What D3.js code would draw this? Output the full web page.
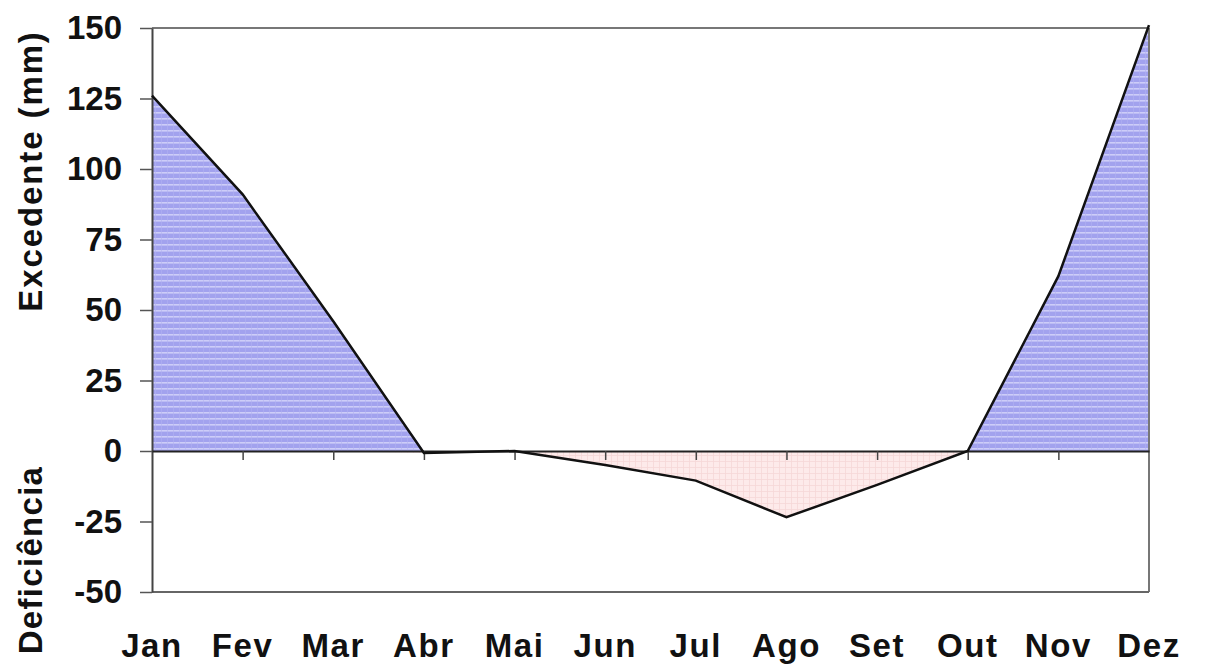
<!DOCTYPE html>
<html><head><meta charset="utf-8">
<script src="https://cdn.jsdelivr.net/npm/d3@7"></script>
<style>
html,body{margin:0;padding:0;background:#fff;}
svg{display:block;font-family:"Liberation Sans",Arial,sans-serif;}
</style></head>
<body>
<svg id="chart" width="1205" height="665"></svg>
<script>
const months = ["Jan","Fev","Mar","Abr","Mai","Jun","Jul","Ago","Set","Out","Nov","Dez"];
const balance = [126, 91, 46, -0.7, 0, -5, -10.5, -23.5, -12, 0, 62, 151];
const yTicks = [-50,-25,0,25,50,75,100,125,150];
const yTitleTop = "Excedente (mm)";
const yTitleBottom = "Deficiência";

const svg = d3.select("#chart");
const pLeft = 152, pRight = 1149, pTop = 28, pBottom = 592;
const x = d3.scalePoint().domain(months).range([pLeft, pRight]);
const y = d3.scaleLinear().domain([-50, 150]).range([pBottom, pTop]);

const defs = svg.append("defs");
const pb = defs.append("pattern").attr("id","blueStripe").attr("patternUnits","userSpaceOnUse")
  .attr("width",6).attr("height",6);
pb.append("rect").attr("width",6).attr("height",6).attr("fill","#a2a2ee");
pb.append("rect").attr("y",4).attr("width",6).attr("height",1.6).attr("fill","#cdcdf8");
pb.append("rect").attr("x",5).attr("width",0.6).attr("height",6).attr("fill","#b2b2f2");
const pp = defs.append("pattern").attr("id","pinkGrid").attr("patternUnits","userSpaceOnUse")
  .attr("width",6).attr("height",6);
pp.append("rect").attr("width",6).attr("height",6).attr("fill","#fdeaea");
pp.append("rect").attr("y",5).attr("width",6).attr("height",0.8).attr("fill","#f6d8d8");
pp.append("rect").attr("x",5).attr("width",0.8).attr("height",6).attr("fill","#f6d8d8");

const pts = months.map((m,i)=>({m, v: balance[i]}));

// positive area
svg.append("path").datum(pts)
  .attr("fill","url(#blueStripe)")
  .attr("d", d3.area().x(d=>x(d.m)).y0(y(0)).y1(d=>y(Math.max(0,d.v))));
// negative area
svg.append("path").datum(pts)
  .attr("fill","url(#pinkGrid)")
  .attr("d", d3.area().x(d=>x(d.m)).y0(y(0)).y1(d=>y(Math.min(0,d.v))));

// frame
svg.append("line").attr("x1",pLeft).attr("x2",pRight).attr("y1",pTop).attr("y2",pTop)
  .attr("stroke","#777").attr("stroke-width",2);
svg.append("line").attr("x1",pRight).attr("x2",pRight).attr("y1",pTop).attr("y2",pBottom)
  .attr("stroke","#777").attr("stroke-width",2);
svg.append("line").attr("x1",pLeft).attr("x2",pRight).attr("y1",pBottom).attr("y2",pBottom)
  .attr("stroke","#666").attr("stroke-width",2);

// y axis
const yAxis = d3.axisLeft(y).tickValues(yTicks).tickSize(12).tickSizeOuter(0).tickPadding(18)
  .tickFormat(d=>String(d));
const gy = svg.append("g").attr("transform",`translate(${pLeft},0)`).call(yAxis);
gy.select(".domain").attr("stroke","#444").attr("stroke-width",2);
gy.selectAll(".tick line").attr("stroke","#555").attr("stroke-width",1.5);
gy.selectAll(".tick text").attr("font-size",33).attr("font-weight","bold").attr("fill","#111")
  .attr("font-family","'Liberation Sans',Arial,sans-serif");

// zero line + month ticks
const gx = svg.append("g").attr("transform",`translate(0,${y(0)})`)
  .call(d3.axisBottom(x).tickSize(9).tickSizeOuter(0).tickFormat(""));
gx.select(".domain").attr("stroke","#222").attr("stroke-width",2.2);
gx.selectAll(".tick line").attr("stroke","#444").attr("stroke-width",1.5)
  .filter(d=>d==="Jan"||d==="Dez").remove();

// month labels
svg.append("g").selectAll("text").data(months).join("text")
  .attr("x",d=>x(d)).attr("y",657)
  .attr("text-anchor","middle")
  .attr("font-size",33).attr("font-weight","bold").attr("letter-spacing",1.6)
  .attr("fill","#111").text(d=>d);

// data line
svg.append("path").datum(pts)
  .attr("fill","none").attr("stroke","#111").attr("stroke-width",2.5)
  .attr("d", d3.line().x(d=>x(d.m)).y(d=>y(d.v)));

// titles
svg.append("text").attr("transform","translate(42,171) rotate(-90)")
  .attr("text-anchor","middle").attr("font-size",33).attr("font-weight","bold")
  .attr("letter-spacing",1.9).attr("fill","#111").text(yTitleTop);
svg.append("text").attr("transform","translate(42,560) rotate(-90)")
  .attr("text-anchor","middle").attr("font-size",33).attr("font-weight","bold")
  .attr("letter-spacing",1.3).attr("fill","#111").text(yTitleBottom);
</script>
</body></html>
